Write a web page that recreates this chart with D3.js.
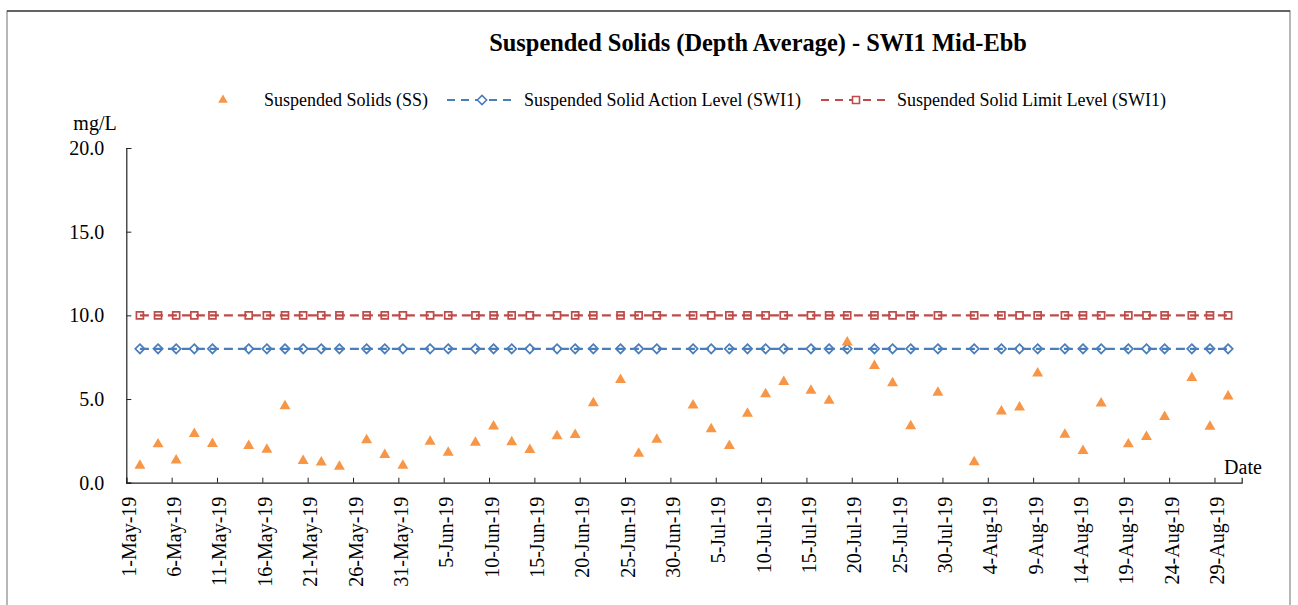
<!DOCTYPE html>
<html><head><meta charset="utf-8">
<script src="https://cdn.jsdelivr.net/npm/d3@7"></script>
<style>body{margin:0;background:#fff}svg{display:block}</style>
</head><body>
<svg id="c" width="1298" height="605"></svg>
<script>
const sampleDates = ["2-May-19","4-May-19","6-May-19","8-May-19","10-May-19","14-May-19","16-May-19","18-May-19","20-May-19","22-May-19","24-May-19","27-May-19","29-May-19","31-May-19",
"3-Jun-19","5-Jun-19","8-Jun-19","10-Jun-19","12-Jun-19","14-Jun-19","17-Jun-19","19-Jun-19","21-Jun-19","24-Jun-19","26-Jun-19","28-Jun-19",
"2-Jul-19","4-Jul-19","6-Jul-19","8-Jul-19","10-Jul-19","12-Jul-19","15-Jul-19","17-Jul-19","19-Jul-19","22-Jul-19","24-Jul-19","26-Jul-19","29-Jul-19",
"2-Aug-19","5-Aug-19","7-Aug-19","9-Aug-19","12-Aug-19","14-Aug-19","16-Aug-19","19-Aug-19","21-Aug-19","23-Aug-19","26-Aug-19","28-Aug-19","30-Aug-19"];
const ssValues = [1.03,2.30,1.33,2.92,2.32,2.20,1.98,4.58,1.31,1.21,0.97,2.54,1.67,1.03,
2.46,1.80,2.40,3.37,2.42,1.96,2.78,2.86,4.76,6.15,1.74,2.58,
4.62,3.21,2.20,4.13,5.30,6.03,5.50,4.90,8.39,6.98,5.95,3.39,5.38,
1.23,4.27,4.50,6.53,2.88,1.90,4.74,2.30,2.74,3.93,6.27,3.35,5.16];
const actionLevel = sampleDates.map(() => 8);
const limitLevel = sampleDates.map(() => 10);
const xTickLabels = ["1-May-19","6-May-19","11-May-19","16-May-19","21-May-19","26-May-19","31-May-19","5-Jun-19","10-Jun-19","15-Jun-19","20-Jun-19","25-Jun-19","30-Jun-19","5-Jul-19","10-Jul-19","15-Jul-19","20-Jul-19","25-Jul-19","30-Jul-19","4-Aug-19","9-Aug-19","14-Aug-19","19-Aug-19","24-Aug-19","29-Aug-19"];
const yTicks = [0,5,10,15,20];
const seriesNames = ["Suspended Solids (SS)","Suspended Solid Action Level (SWI1)","Suspended Solid Limit Level (SWI1)"];
const axisStart = "1-May-19", axisEnd = "1-Sep-19";

const parse = d3.timeParse("%d-%b-%y");
const noon = s => d3.timeHour.offset(parse(s), 12);
const FONT = "'Liberation Serif','Times New Roman',serif";
const C_SS = "#F79646", C_ACT = "#4A7EBB", C_LIM = "#BE4B48";

const svg = d3.select("#c");
svg.append("rect").attr("x",7).attr("y",11).attr("width",1283).attr("height",620)
  .attr("fill","none").attr("stroke","#888").attr("stroke-width",1.2);
svg.append("line").attr("x1",7).attr("x2",1290).attr("y1",11).attr("y2",11).attr("stroke","#111").attr("stroke-width",1.2);

const x = d3.scaleTime().domain([parse(axisStart), parse(axisEnd)]).range([126.3, 1241.7]);
const y = d3.scaleLinear().domain([0,20]).range([482.7, 148]);

// title
svg.append("text").attr("x",758).attr("y",51).attr("text-anchor","middle")
  .attr("font-family",FONT).attr("font-weight","bold").attr("font-size",24.4)
  .text("Suspended Solids (Depth Average) - SWI1 Mid-Ebb");

// y axis
const yAxis = svg.append("g").attr("transform","translate(126.3,0)")
  .call(d3.axisLeft(y).tickValues(yTicks).tickSize(-5).tickPadding(22).tickFormat(d3.format(".1f")));
yAxis.select(".domain").attr("stroke","#222").attr("stroke-width",1.2);
yAxis.selectAll(".tick line").attr("stroke","#222");
yAxis.selectAll("text").attr("font-family",FONT).attr("font-size",20).attr("fill","#000");

// x axis
const xAxis = svg.append("g").attr("transform","translate(0,482.7)")
  .call(d3.axisBottom(x).tickValues(xTickLabels.map(parse)).tickSize(-5).tickFormat(d3.timeFormat("%-d-%b-%y")));
xAxis.select(".domain").attr("stroke","#222").attr("stroke-width",1.2);
xAxis.selectAll(".tick line").attr("stroke","#222");
xAxis.selectAll("text").attr("font-family",FONT).attr("font-size",20).attr("fill","#000")
  .attr("transform","rotate(-90)").attr("text-anchor","end").attr("x",-14).attr("y",2).attr("dy","0.35em");

svg.append("text").attr("x",95).attr("y",130).attr("text-anchor","middle").attr("font-family",FONT).attr("font-size",20).text("mg/L");
svg.append("text").attr("x",1243).attr("y",474).attr("text-anchor","middle").attr("font-family",FONT).attr("font-size",20).text("Date");

const dates = sampleDates.map(noon);
const line = d3.line().x(d=>x(d[0])).y(d=>y(d[1]));
const diamond = d3.symbol().type(d3.symbolDiamond2).size(55);
const square = d3.symbol().type(d3.symbolSquare2).size(62);
const tri = d3.symbol().type(d3.symbolTriangle).size(52);

function levelSeries(vals, color, sym){
  const pts = dates.map((d,i)=>[d, vals[i]]);
  svg.append("path").attr("d", line(pts)).attr("fill","none").attr("stroke",color)
    .attr("stroke-width",2.2).attr("stroke-dasharray","9,5");
  svg.append("g").selectAll("path").data(pts).join("path")
    .attr("transform",d=>`translate(${x(d[0])},${y(d[1])})`).attr("d",sym)
    .attr("fill","none").attr("stroke",color).attr("stroke-width",1.7);
}
levelSeries(limitLevel, C_LIM, square);
levelSeries(actionLevel, C_ACT, diamond);

svg.append("g").selectAll("path").data(dates.map((d,i)=>[d, ssValues[i]])).join("path")
  .attr("transform",d=>`translate(${x(d[0])},${y(d[1])})`).attr("d",tri).attr("fill",C_SS);

// legend
const lg = svg.append("g").attr("font-family",FONT).attr("font-size",18);
lg.append("path").attr("transform","translate(223,100)").attr("d",d3.symbol().type(d3.symbolTriangle).size(40)).attr("fill",C_SS);
lg.append("text").attr("x",264).attr("y",106).text(seriesNames[0]);
[[447,C_ACT,diamond,524,1],[821,C_LIM,square,897,2]].forEach(([lx,col,sym,tx,i])=>{
  lg.append("line").attr("x1",lx).attr("x2",lx+68).attr("y1",100).attr("y2",100).attr("stroke",col).attr("stroke-width",2.2).attr("stroke-dasharray","8,6");
  lg.append("path").attr("transform",`translate(${lx+35},100)`).attr("d",sym).attr("fill","#fff").attr("stroke",col).attr("stroke-width",1.6);
  lg.append("text").attr("x",tx).attr("y",106).text(seriesNames[i]);
});
</script>
</body></html>
